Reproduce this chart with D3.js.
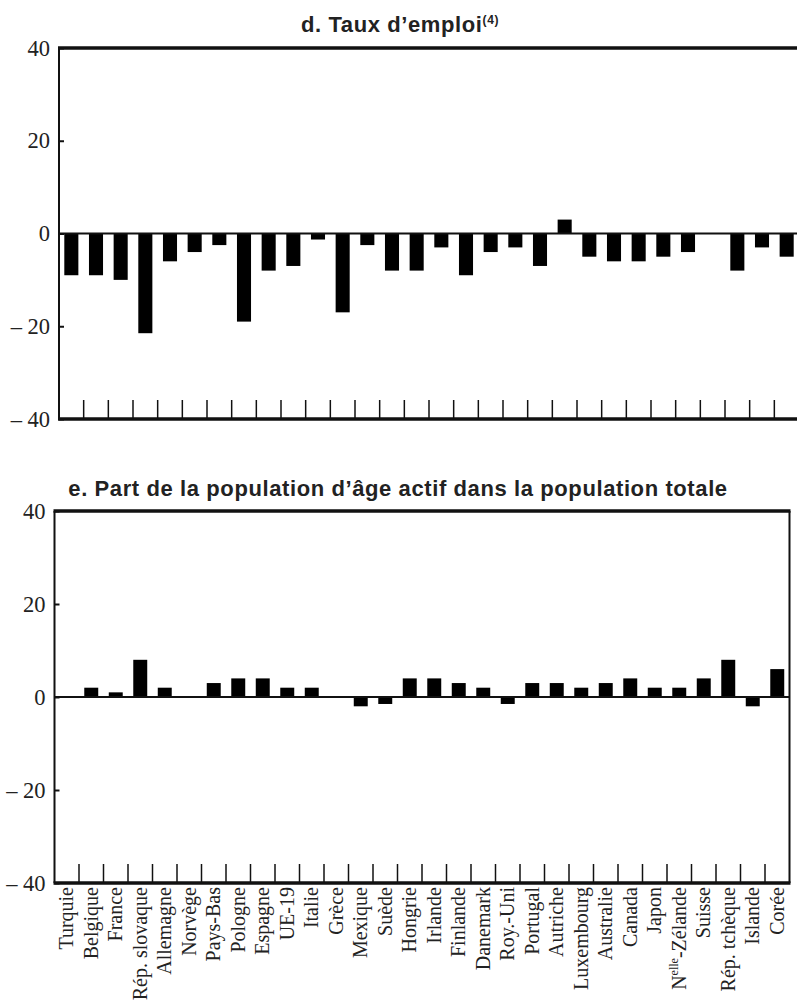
<!DOCTYPE html>
<html>
<head>
<meta charset="utf-8">
<script src="https://cdn.jsdelivr.net/npm/d3@7"></script>
<style>
  html, body { margin: 0; padding: 0; background: #fff; }
  svg { display: block; }
  .title { font-family: 'Liberation Sans', Arial, sans-serif; font-weight: bold; font-size: 22px; letter-spacing: 0.6px; fill: #222; }
  .yaxis .tick text { font-family: 'Liberation Serif', 'Times New Roman', serif; font-size: 22.5px; fill: #222; }
  .xaxis .tick text { font-family: 'Liberation Serif', 'Times New Roman', serif; font-size: 20px; fill: #222; }
</style>
</head>
<body>
<div id="chart"></div>
<script>
// categories shared by both panels
const categories = ['Turquie', 'Belgique', 'France', 'Rép. slovaque', 'Allemagne', 'Norvège', 'Pays-Bas',
  'Pologne', 'Espagne', 'UE-19', 'Italie', 'Grèce', 'Mexique', 'Suède', 'Hongrie', 'Irlande', 'Finlande',
  'Danemark', 'Roy.-Uni', 'Portugal', 'Autriche', 'Luxembourg', 'Australie', 'Canada', 'Japon',
  'Nelle-Zélande', 'Suisse', 'Rép. tchèque', 'Islande', 'Corée']

// d. Taux d'emploi
const emploi = [-9, -9, -10, -21.5, -6, -4, -2.5, -19, -8, -7, -1.3, -17, -2.5, -8, -8, -3, -9,
  -4, -3, -7, 3, -5, -6, -6, -5, -4, 0, -8, -3, -5]

// e. Part de la population d'âge actif
const popActive = [0, 2, 1, 8, 2, 0, 3, 4, 4, 2, 2, 0, -2, -1.5, 4, 4, 3,
  2, -1.5, 3, 3, 2, 3, 4, 2, 2, 4, 8, -2, 6]

const yTicks = [-40, -20, 0, 20, 40]

const width = 797
const height = 1004

const svg = d3.select('#chart')
  .append('svg')
  .attr('width', width)
  .attr('height', height)

const fmt = d => d < 0 ? '\u2013 ' + Math.abs(d) : String(d)

function drawPanel (opts) {
  const x = d3.scaleBand()
    .domain(categories)
    .range([opts.left, opts.right])
    .paddingInner(0.43)
    .paddingOuter(0.215)

  const y = d3.scaleLinear()
    .domain([-40, 40])
    .range([opts.bottom, opts.top])

  const g = svg.append('g')

  // title
  const title = g.append('text')
    .attr('class', 'title')
    .attr('x', opts.titleX)
    .attr('y', opts.titleY)
    .attr('text-anchor', 'middle')
    .text(opts.title)
  if (opts.sup) {
    title.append('tspan')
      .attr('font-size', '12px')
      .attr('dy', '-8')
      .text(opts.sup)
  }

  // y axis
  g.append('g')
    .attr('class', 'yaxis')
    .attr('transform', 'translate(' + opts.left + ',0)')
    .call(d3.axisLeft(y)
      .tickValues(yTicks)
      .tickSize(-5)
      .tickPadding(9)
      .tickFormat(fmt))
    .call(s => s.select('.domain').remove())
    .call(s => s.selectAll('.tick line').attr('stroke', '#111').attr('stroke-width', 2))

  // bars
  g.selectAll('rect.bar')
    .data(opts.values)
    .enter()
    .append('rect')
    .attr('class', 'bar')
    .attr('x', (d, i) => x(categories[i]))
    .attr('width', x.bandwidth())
    .attr('y', d => y(Math.max(0, d)))
    .attr('height', d => Math.abs(y(d) - y(0)))
    .attr('fill', '#000')

  // separators rising from the bottom line
  const step = x.step()
  g.selectAll('line.sep')
    .data(categories.slice(1))
    .enter()
    .append('line')
    .attr('class', 'sep')
    .attr('x1', d => x(d) - (step - x.bandwidth()) / 2)
    .attr('x2', d => x(d) - (step - x.bandwidth()) / 2)
    .attr('y1', y(-40))
    .attr('y2', y(-40) - 19)
    .attr('stroke', '#111')
    .attr('stroke-width', 1.5)

  // frame lines
  g.append('line')
    .attr('x1', opts.left).attr('x2', opts.left)
    .attr('y1', y(40)).attr('y2', y(-40))
    .attr('stroke', '#111').attr('stroke-width', 2)
  if (opts.rightBorder) {
    g.append('line')
      .attr('x1', opts.right).attr('x2', opts.right)
      .attr('y1', y(40)).attr('y2', y(-40))
      .attr('stroke', '#111').attr('stroke-width', 2)
  }
  ;[40, -40].forEach(v => {
    g.append('line')
      .attr('x1', opts.left - 1).attr('x2', opts.right + 1)
      .attr('y1', y(v)).attr('y2', y(v))
      .attr('stroke', '#111').attr('stroke-width', 3.5)
  })
  g.append('line')
    .attr('x1', opts.left).attr('x2', opts.right)
    .attr('y1', y(0)).attr('y2', y(0))
    .attr('stroke', '#111').attr('stroke-width', 2)

  // category labels
  if (opts.labels) {
    const ax = g.append('g')
      .attr('class', 'xaxis')
      .attr('transform', 'translate(0,' + (y(-40) + 4) + ')')
      .call(d3.axisBottom(x).tickSize(0).tickPadding(0))
    ax.select('.domain').remove()
    ax.selectAll('.tick text')
      .attr('transform', 'rotate(-90)')
      .attr('text-anchor', 'end')
      .attr('x', 0)
      .attr('y', 0)
      .attr('dy', '0.33em')
      .each(function (d) {
        if (d === 'Nelle-Zélande') {
          const t = d3.select(this).text('N')
          t.append('tspan').attr('font-size', '12px').attr('dy', '-8').text('elle')
          t.append('tspan').attr('dy', '8').text('-Zélande')
        }
      })
  }
}

drawPanel({
  values: emploi,
  left: 59,
  right: 799,
  top: 48,
  bottom: 419,
  title: 'd. Taux d\u2019emploi',
  sup: '(4)',
  titleX: 400,
  titleY: 32,
  rightBorder: false,
  labels: false
})

drawPanel({
  values: popActive,
  left: 54.5,
  right: 789.5,
  top: 511,
  bottom: 883,
  title: 'e. Part de la population d\u2019âge actif dans la population totale',
  titleX: 398,
  titleY: 496,
  rightBorder: true,
  labels: true
})
</script>
</body>
</html>
